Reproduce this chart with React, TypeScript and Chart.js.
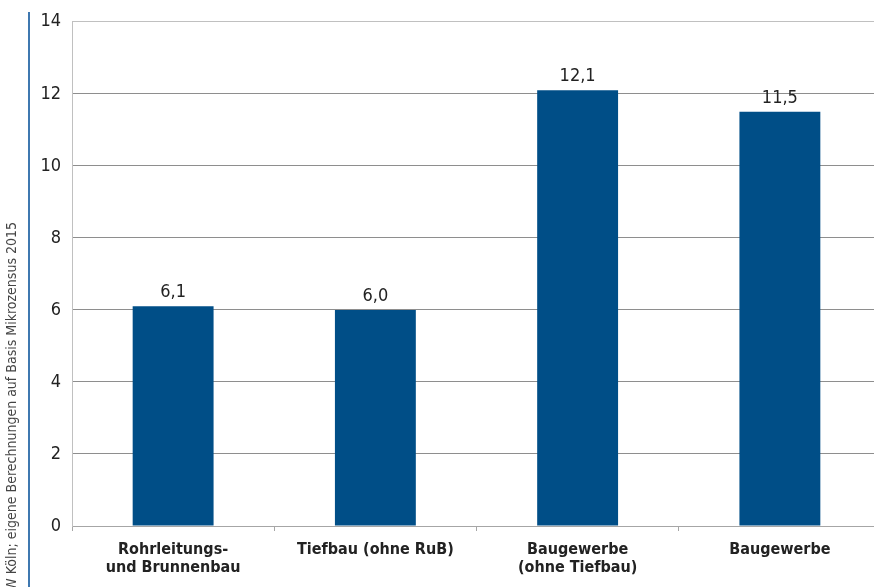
import React, { useEffect, useRef } from "react";
import { Chart, registerables } from "chart.js";

Chart.register(...registerables);

const categories: string[][] = [
  ["Rohrleitungs-", "und Brunnenbau"],
  ["Tiefbau (ohne RuB)"],
  ["Baugewerbe", "(ohne Tiefbau)"],
  ["Baugewerbe"],
];
const values: number[] = [6.1, 6.0, 12.1, 11.5];
const yTicks: number[] = [0, 2, 4, 6, 8, 10, 12, 14];
const sourceNote = "IW Köln; eigene Berechnungen auf Basis Mikrozensus 2015";

const FONT = "'DejaVu Sans Condensed', 'Liberation Sans Narrow', 'DejaVu Sans', sans-serif";
const BAR = "#004e87";
const TEXT = "#222222";

const fmt = (v: number) => v.toFixed(1).replace(".", ",");

// value labels above each bar
const valueLabels = {
  id: "valueLabels",
  afterDatasetsDraw(chart: any) {
    const ctx = chart.ctx;
    const meta = chart.getDatasetMeta(0);
    ctx.save();
    ctx.font = `18px ${FONT}`;
    ctx.fillStyle = TEXT;
    ctx.textAlign = "center";
    ctx.textBaseline = "bottom";
    meta.data.forEach((el: any, i: number) => {
      ctx.fillText(fmt(values[i]), el.x, el.y - 5);
    });
    ctx.restore();
  },
};

// source note running up the left edge, with its rule
const sideNote = {
  id: "sideNote",
  afterDraw(chart: any) {
    const ctx = chart.ctx;
    ctx.save();
    ctx.strokeStyle = "#3f78b0";
    ctx.lineWidth = 2;
    ctx.beginPath();
    ctx.moveTo(29, 12);
    ctx.lineTo(29, 600);
    ctx.stroke();
    ctx.translate(12, 222);
    ctx.rotate(-Math.PI / 2);
    ctx.font = `14px ${FONT}`;
    ctx.fillStyle = "#444444";
    ctx.textAlign = "right";
    ctx.textBaseline = "middle";
    ctx.fillText(sourceNote, 0, 0);
    ctx.restore();
  },
};

export default function App() {
  const canvasRef = useRef<HTMLCanvasElement | null>(null);

  useEffect(() => {
    if (!canvasRef.current) return;
    const chart = new Chart(canvasRef.current, {
      type: "bar",
      data: {
        labels: categories,
        datasets: [
          {
            data: values,
            backgroundColor: BAR,
            borderWidth: 0,
            categoryPercentage: 1,
            barPercentage: 0.4,
          },
        ],
      },
      options: {
        responsive: false,
        animation: false,
        layout: { padding: { top: 20, right: 19, left: 0, bottom: 0 } },
        plugins: {
          legend: { display: false },
          tooltip: { enabled: false },
        },
        scales: {
          x: {
            offset: true,
            grid: {
              drawOnChartArea: false,
              drawTicks: true,
              tickLength: 5,
              color: "#a6a6a6",
              offset: true,
            },
            border: { color: "#a6a6a6", width: 1 },
            ticks: {
              color: TEXT,
              font: { family: FONT, size: 16, weight: "bold", lineHeight: 1.1 },
              padding: 10,
              maxRotation: 0,
              autoSkip: false,
            },
            afterFit(scale: any) {
              scale.height = 61;
            },
          },
          y: {
            min: 0,
            max: 14,
            afterBuildTicks(scale: any) {
              scale.ticks = yTicks.map((v) => ({ value: v }));
            },
            grid: {
              color: (c: any) => (c.tick && c.tick.value === 14 ? "#c0c0c0" : "#8e8e8e"),
              drawTicks: false,
            },
            border: { color: "#c0c0c0", width: 1 },
            ticks: {
              color: TEXT,
              font: { family: FONT, size: 18 },
              padding: 11,
              callback: (v: any) => String(v),
            },
            afterFit(scale: any) {
              scale.width = 72;
            },
          },
        },
      },
      plugins: [valueLabels, sideNote],
    });
    return () => chart.destroy();
  }, []);

  return (
    <div
      style={{
        position: "fixed",
        left: 0,
        top: 0,
        width: 874,
        height: 587,
        overflow: "hidden",
        background: "#ffffff",
      }}
    >
      <canvas ref={canvasRef} width={900} height={587} style={{ display: "block" }} />
    </div>
  );
}
